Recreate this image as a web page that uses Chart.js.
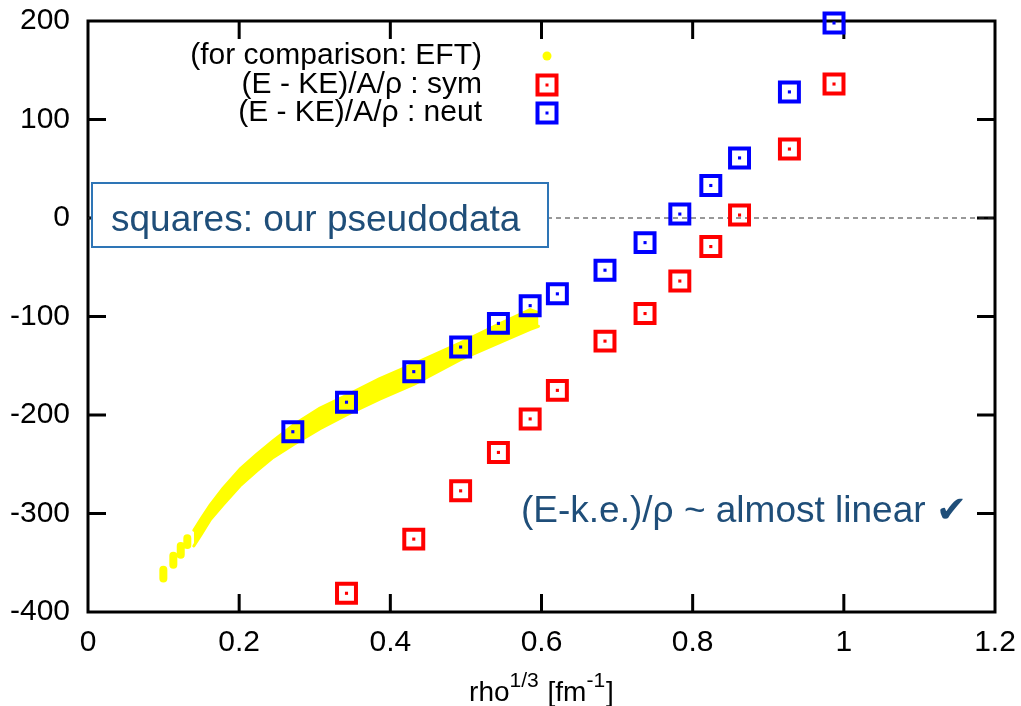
<!DOCTYPE html>
<html>
<head>
<meta charset="utf-8">
<script src="https://cdn.jsdelivr.net/npm/chart.js@4.4.1/dist/chart.umd.min.js"></script>
<style>
  body { margin: 0; background: #fff; }
  #wrap { width: 1021px; height: 706px; position: relative; }
</style>
</head>
<body>
<div id="wrap"><canvas id="eftChart"></canvas></div>
<script>
// rho^(1/3) positions of the pseudodata
const rhoX = [0.271, 0.342, 0.431, 0.493, 0.543, 0.585, 0.621, 0.684, 0.737, 0.783, 0.824, 0.862, 0.928, 0.987];
// (E - KE)/A/rho, neutron matter
const neutY = [-217, -187, -156, -131, -107, -89, -77, -53, -25, 4, 33, 61, 128, 198];
// (E - KE)/A/rho, symmetric matter (no point at the first density, it is below the axis)
const symX = [0.342, 0.431, 0.493, 0.543, 0.585, 0.621, 0.684, 0.737, 0.783, 0.824, 0.862, 0.928, 0.987];
const symY = [-381, -326, -277, -238, -204, -175, -125, -97, -64, -29, 3, 70, 136];

// EFT comparison band: upper and lower edge
const eftX     = [0.140, 0.150, 0.162, 0.179, 0.201, 0.223, 0.245, 0.272, 0.307, 0.342, 0.386, 0.431, 0.492, 0.543, 0.585, 0.596];
const eftUpper = [-317, -305, -291, -274, -255, -240, -226, -210, -193, -180, -163, -148, -127, -108, -93, -96];
const eftLower = [-333, -321, -306, -291, -272, -257, -243, -230, -214, -200, -184, -169, -144, -127, -113, -110];
// separate EFT blobs at low density
const eftDotX      = [0.0997, 0.1129, 0.1227, 0.1314];
const eftDotTop    = [-357, -343, -333, -325];
const eftDotBottom = [-366, -352, -342, -332];

const xTicks = [0, 0.2, 0.4, 0.6, 0.8, 1, 1.2];
const xTickLabels = ['0', '0.2', '0.4', '0.6', '0.8', '1', '1.2'];
const yTicks = [-400, -300, -200, -100, 0, 100, 200];
const yTickLabels = ['-400', '-300', '-200', '-100', '0', '100', '200'];

const legendLabels = ['(for comparison: EFT)', '(E - KE)/A/\u03c1 : sym', '(E - KE)/A/\u03c1 : neut'];

const FONT = '"Liberation Sans", Arial, sans-serif';
const TEXT_BLUE = '#1F4E79';

const pts = (xs, ys) => xs.map((x, i) => ({ x: x, y: ys[i] }));

const blobData = [];
eftDotX.forEach((x, i) => {
    blobData.push({ x: x, y: eftDotTop[i] });
    blobData.push({ x: x, y: eftDotBottom[i] });
    blobData.push({ x: x + 0.004, y: null });
});

const frame = {
    id: 'frame',
    beforeDatasetsDraw(chart) {
        const { ctx, chartArea: a, scales: { x, y } } = chart;
        ctx.save();
        ctx.strokeStyle = '#000';
        ctx.lineWidth = 3;
        ctx.strokeRect(a.left, a.top, a.right - a.left, a.bottom - a.top);
        const tl = 18;
        ctx.beginPath();
        xTicks.slice(1, -1).forEach(v => {
            const px = x.getPixelForValue(v);
            ctx.moveTo(px, a.bottom); ctx.lineTo(px, a.bottom - tl);
            ctx.moveTo(px, a.top); ctx.lineTo(px, a.top + tl);
        });
        yTicks.slice(1, -1).forEach(v => {
            const py = y.getPixelForValue(v);
            ctx.moveTo(a.left, py); ctx.lineTo(a.left + tl, py);
            ctx.moveTo(a.right, py); ctx.lineTo(a.right - tl, py);
        });
        ctx.stroke();

        // zero line
        const y0 = y.getPixelForValue(0);
        ctx.lineWidth = 1;
        ctx.strokeStyle = '#333';
        ctx.setLineDash([5, 4]);
        ctx.beginPath();
        ctx.moveTo(a.left, y0); ctx.lineTo(a.right - 1, y0);
        ctx.stroke();
        ctx.setLineDash([]);

        // text box
        const bx = 92, by = 183, bw = 456, bh = 64;
        ctx.fillStyle = '#fff';
        ctx.fillRect(bx, by, bw, bh);
        ctx.strokeStyle = '#2E75B6';
        ctx.lineWidth = 2;
        ctx.strokeRect(bx, by, bw, bh);
        ctx.fillStyle = TEXT_BLUE;
        ctx.font = '37px ' + FONT;
        ctx.textAlign = 'left';
        ctx.textBaseline = 'alphabetic';
        ctx.fillText('squares: our pseudodata', 111, 231);
        ctx.restore();
    },
    afterDraw(chart) {
        const { ctx, chartArea: a } = chart;
        ctx.save();
        // legend
        const rows = [56, 85, 113];
        ctx.font = '30px ' + FONT;
        ctx.fillStyle = '#000';
        ctx.textAlign = 'right';
        ctx.textBaseline = 'middle';
        legendLabels.forEach((t, i) => ctx.fillText(t, 482, rows[i]));
        const mx = 547;
        ctx.fillStyle = '#FFFF00';
        ctx.beginPath();
        ctx.ellipse(mx, rows[0], 4.5, 4.5, 0, 0, Math.PI * 2);
        ctx.fill();
        [['#FF0000', rows[1]], ['#0000FF', rows[2]]].forEach(([c, ry]) => {
            ctx.strokeStyle = c;
            ctx.lineWidth = 4;
            ctx.strokeRect(mx - 9.5, ry - 9.5, 19, 19);
            ctx.fillStyle = c;
            ctx.fillRect(mx - 1.5, ry - 1.5, 3, 3);
        });

        // note
        ctx.font = '37px ' + FONT;
        ctx.fillStyle = TEXT_BLUE;
        ctx.textAlign = 'left';
        ctx.textBaseline = 'alphabetic';
        ctx.fillText('(E-k.e.)/\u03c1 ~ almost linear \u2714', 521, 522);

        // x axis title with superscripts
        const big = '28px ' + FONT, small = '21px ' + FONT;
        const parts = [['rho', big, 0], ['1/3', small, -14], [' [fm', big, 0], ['-1', small, -14], [']', big, 0]];
        let w = 0;
        parts.forEach(p => { ctx.font = p[1]; w += ctx.measureText(p[0]).width + (p[2] ? 1 : 0); });
        let cx = (a.left + a.right) / 2 - w / 2;
        ctx.fillStyle = '#000';
        parts.forEach(p => {
            ctx.font = p[1];
            ctx.fillText(p[0], cx, 701 + p[2]);
            cx += ctx.measureText(p[0]).width + (p[2] ? 1 : 0);
        });
        ctx.restore();
    }
};

new Chart(document.getElementById('eftChart'), {
    type: 'scatter',
    data: {
        datasets: [
            {
                label: 'neut',
                data: pts(rhoX, neutY),
                pointStyle: 'rect',
                pointRadius: 13.4,
                pointBorderWidth: 4,
                borderColor: '#0000FF',
                backgroundColor: 'rgba(0,0,0,0)',
                clip: false,
                order: 1
            },
            {
                label: 'neut dot',
                data: pts(rhoX, neutY),
                pointStyle: 'rect',
                pointRadius: 2.2,
                pointBorderWidth: 0,
                backgroundColor: '#0000FF',
                clip: false,
                order: 1
            },
            {
                label: 'sym',
                data: pts(symX, symY),
                pointStyle: 'rect',
                pointRadius: 13.4,
                pointBorderWidth: 4,
                borderColor: '#FF0000',
                backgroundColor: 'rgba(0,0,0,0)',
                clip: false,
                order: 2
            },
            {
                label: 'sym dot',
                data: pts(symX, symY),
                pointStyle: 'rect',
                pointRadius: 2.2,
                pointBorderWidth: 0,
                backgroundColor: '#FF0000',
                clip: false,
                order: 2
            },
            {
                label: 'EFT upper',
                data: pts(eftX, eftUpper),
                showLine: true,
                pointRadius: 0,
                borderColor: '#FFFF00',
                borderWidth: 3,
                borderCapStyle: 'round',
                borderJoinStyle: 'round',
                fill: false,
                order: 5
            },
            {
                label: 'EFT lower',
                data: pts(eftX, eftLower),
                showLine: true,
                pointRadius: 0,
                borderColor: '#FFFF00',
                backgroundColor: '#FFFF00',
                borderWidth: 3,
                borderCapStyle: 'round',
                borderJoinStyle: 'round',
                fill: '-1',
                order: 5
            },
            {
                label: 'EFT low density',
                data: blobData,
                showLine: true,
                spanGaps: false,
                pointRadius: 0,
                borderColor: '#FFFF00',
                borderWidth: 8,
                borderCapStyle: 'round',
                order: 5
            }
        ]
    },
    options: {
        responsive: true,
        maintainAspectRatio: false,
        animation: false,
        layout: { padding: { top: 21, right: 26, left: 0, bottom: 0 } },
        plugins: {
            legend: { display: false },
            tooltip: { enabled: false }
        },
        scales: {
            x: {
                type: 'linear',
                min: 0,
                max: 1.2,
                afterBuildTicks: s => { s.ticks = xTicks.map(v => ({ value: v })); },
                afterFit: s => { s.height = 94; s.paddingLeft = 0; s.paddingRight = 0; },
                grid: { display: false, tickLength: 0 },
                border: { display: false },
                ticks: {
                    color: '#000',
                    font: { family: FONT, size: 30 },
                    padding: 13,
                    maxRotation: 0,
                    autoSkip: false,
                    callback: (v, i) => xTickLabels[i]
                }
            },
            y: {
                type: 'linear',
                min: -400,
                max: 200,
                afterBuildTicks: s => { s.ticks = yTicks.map(v => ({ value: v })); },
                afterFit: s => { s.width = 88; s.paddingTop = 0; s.paddingBottom = 0; },
                grid: { display: false, tickLength: 0 },
                border: { display: false },
                ticks: {
                    color: '#000',
                    font: { family: FONT, size: 30 },
                    padding: 18,
                    autoSkip: false,
                    callback: (v, i) => yTickLabels[i]
                }
            }
        }
    },
    plugins: [frame]
});
</script>
</body>
</html>
